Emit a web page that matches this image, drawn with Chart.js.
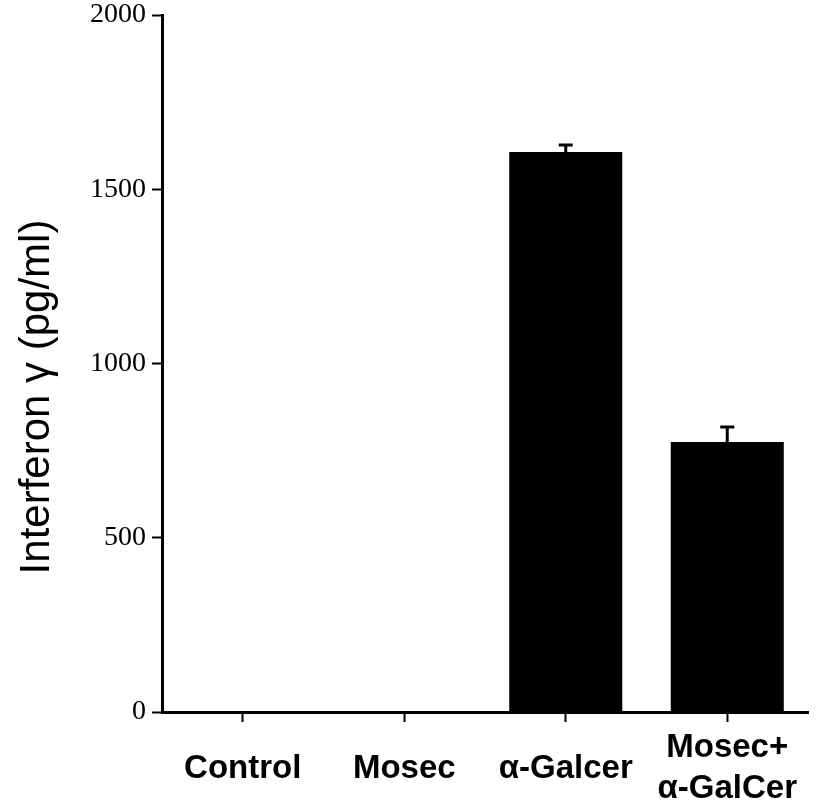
<!DOCTYPE html>
<html>
<head>
<meta charset="utf-8">
<script src="https://cdn.jsdelivr.net/npm/chart.js@4"></script>
<style>
  html, body { margin: 0; padding: 0; background: #fff; }
  #chart { display: block; }
</style>
</head>
<body>
<canvas id="chart" width="816" height="812"></canvas>
<script>
const categories = ['Control', 'Mosec', 'α-Galcer', ['Mosec+', 'α-GalCer']];
const ifnValues = [0, 0, 1607, 775];
const ifnErrors = [0, 0, 20, 43];
const yMin = 0;
const yMax = 2000;
const yStep = 500;
const yTitle = 'Interferon γ (pg/ml)';

// error bars (upper half only), drawn through the y scale
const errorBars = {
    id: 'errorBars',
    afterDatasetsDraw(chart) {
        const ctx = chart.ctx;
        const yScale = chart.scales.y;
        const meta = chart.getDatasetMeta(0);
        ctx.save();
        ctx.strokeStyle = '#000';
        ctx.lineWidth = 3;
        meta.data.forEach((bar, i) => {
            const err = ifnErrors[i];
            if (!err) return;
            const yTop = yScale.getPixelForValue(ifnValues[i] + err);
            ctx.beginPath();
            ctx.moveTo(bar.x, bar.y);
            ctx.lineTo(bar.x, yTop);
            ctx.moveTo(bar.x - 7, yTop);
            ctx.lineTo(bar.x + 7, yTop);
            ctx.stroke();
        });
        ctx.restore();
    }
};

// rotated y axis title
const axisTitle = {
    id: 'axisTitle',
    afterDraw(chart) {
        const ctx = chart.ctx;
        ctx.save();
        ctx.translate(37, 397);
        ctx.rotate(-Math.PI / 2);
        ctx.font = '42px "Liberation Sans", Arial, sans-serif';
        ctx.fillStyle = '#000';
        ctx.textAlign = 'center';
        ctx.textBaseline = 'middle';
        ctx.fillText(yTitle, 0, 0);
        ctx.restore();
    }
};

new Chart(document.getElementById('chart'), {
    type: 'bar',
    data: {
        labels: categories,
        datasets: [{
            data: ifnValues,
            backgroundColor: '#000',
            borderWidth: 0,
            barPercentage: 0.7,
            categoryPercentage: 1.0
        }]
    },
    options: {
        responsive: false,
        animation: false,
        devicePixelRatio: 1,
        layout: { padding: { top: 15, right: 8, left: 0, bottom: 0 } },
        plugins: {
            legend: { display: false },
            tooltip: { enabled: false }
        },
        scales: {
            x: {
                offset: true,
                afterFit(scale) {
                    scale.height = 100;
                    scale.paddingLeft = 0;
                    scale.paddingRight = 0;
                },
                grid: {
                    offset: false,
                    drawOnChartArea: false,
                    drawTicks: true,
                    tickLength: 10,
                    tickWidth: 2,
                    tickColor: '#000'
                },
                border: { display: true, color: '#000', width: 3 },
                ticks: {
                    color: '#000',
                    padding: 26,
                    maxRotation: 0,
                    crossAlign: 'center',
                    font: { family: '"Liberation Sans", Arial, sans-serif', size: 33, weight: 'bold', lineHeight: 1.24 }
                }
            },
            y: {
                min: yMin,
                max: yMax,
                afterFit(scale) {
                    scale.width = 162;
                    scale.paddingTop = 0;
                    scale.paddingBottom = 0;
                },
                grid: {
                    drawOnChartArea: false,
                    drawTicks: true,
                    tickLength: 10,
                    tickWidth: 2,
                    tickColor: '#000'
                },
                border: { display: true, color: '#000', width: 3 },
                ticks: {
                    stepSize: yStep,
                    color: '#000',
                    padding: 6,
                    callback: (v) => String(v),
                    font: { family: '"Liberation Serif", "Times New Roman", serif', size: 28 }
                }
            }
        }
    },
    plugins: [errorBars, axisTitle]
});
</script>
</body>
</html>
